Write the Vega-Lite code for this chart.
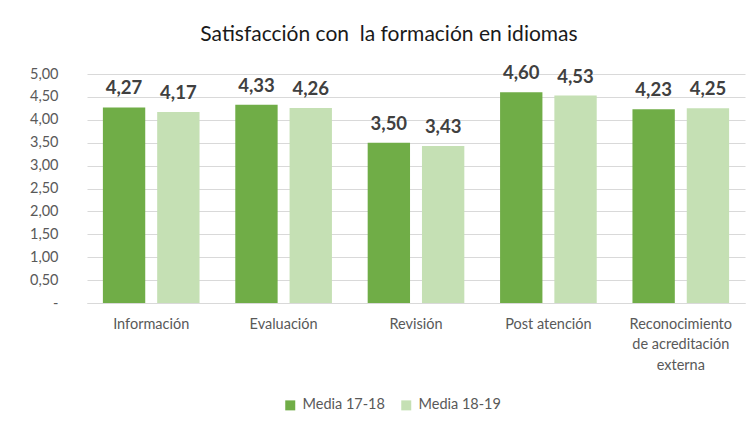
{
  "$schema": "https://vega.github.io/schema/vega-lite/v6.json",
  "width": 658,
  "height": 229,
  "autosize": {"type": "none"},
  "padding": {"left": 87, "top": 74, "right": 7, "bottom": 120},
  "background": "white",
  "title": {
    "text": "Satisfacción con\u00a0 la formación en idiomas",
    "font": "Lato",
    "fontSize": 21,
    "fontWeight": "normal",
    "color": "#1a1a1a",
    "anchor": "middle",
    "offset": 19,
    "dx": -27
  },
  "config": {
    "locale": {"number": {"decimal": ",", "thousands": ".", "grouping": [3], "currency": ["", " €"]}},
    "view": {"stroke": null},
    "font": "Lato"
  },
  "data": {
    "values": [
      {"categoria": "Información", "serie": "Media 17-18", "valor": 4.27},
      {"categoria": "Información", "serie": "Media 18-19", "valor": 4.17},
      {"categoria": "Evaluación", "serie": "Media 17-18", "valor": 4.33},
      {"categoria": "Evaluación", "serie": "Media 18-19", "valor": 4.26},
      {"categoria": "Revisión", "serie": "Media 17-18", "valor": 3.50},
      {"categoria": "Revisión", "serie": "Media 18-19", "valor": 3.43},
      {"categoria": "Post atención", "serie": "Media 17-18", "valor": 4.60},
      {"categoria": "Post atención", "serie": "Media 18-19", "valor": 4.53},
      {"categoria": "Reconocimiento de acreditación externa", "serie": "Media 17-18", "valor": 4.23},
      {"categoria": "Reconocimiento de acreditación externa", "serie": "Media 18-19", "valor": 4.25}
    ]
  },
  "encoding": {
    "x": {
      "field": "categoria",
      "type": "nominal",
      "sort": null,
      "scale": {"paddingInner": 0.27, "paddingOuter": 0.12},
      "axis": {
        "title": null,
        "labelAngle": 0,
        "ticks": false,
        "domain": true,
        "domainColor": "#d9d9d9",
        "labelFont": "Lato",
        "labelFontSize": 14.5,
        "labelColor": "#595959",
        "labelPadding": 14,
        "labelLineHeight": 20.5,
        "labelExpr": "datum.label == 'Reconocimiento de acreditación externa' ? ['Reconocimiento', 'de acreditación', 'externa'] : datum.label"
      }
    },
    "xOffset": {
      "field": "serie",
      "type": "nominal",
      "scale": {"paddingInner": 0.22, "paddingOuter": 0}
    },
    "y": {
      "field": "valor",
      "type": "quantitative",
      "scale": {"domain": [0, 5]},
      "axis": {
        "title": null,
        "values": [0, 0.5, 1, 1.5, 2, 2.5, 3, 3.5, 4, 4.5, 5],
        "format": ".2f",
        "labelExpr": "datum.value == 0 ? '-' : datum.label",
        "domain": false,
        "ticks": false,
        "grid": true,
        "gridColor": "#d9d9d9",
        "gridWidth": 1,
        "labelFont": "Lato",
        "labelFontSize": 14.5,
        "labelColor": "#595959",
        "labelPadding": 29
      }
    }
  },
  "layer": [
    {
      "mark": {"type": "bar"},
      "encoding": {
        "color": {
          "field": "serie",
          "type": "nominal",
          "scale": {"domain": ["Media 17-18", "Media 18-19"], "range": ["#70AD47", "#C5E0B4"]},
          "legend": {
            "title": null,
            "orient": "none",
            "direction": "horizontal",
            "legendX": 196,
            "legendY": 324,
            "symbolType": "square",
            "symbolSize": 100,
            "symbolStrokeWidth": 0,
            "labelFont": "Lato",
            "labelFontSize": 14.5,
            "labelColor": "#595959",
            "columnPadding": 14,
            "labelOffset": 5
          }
        }
      }
    },
    {
      "mark": {"type": "text", "baseline": "bottom", "dy": -9, "font": "Lato", "fontSize": 18.5, "fontWeight": "bold", "color": "#404040"},
      "encoding": {
        "text": {"field": "valor", "type": "quantitative", "format": ".2f"}
      }
    }
  ]
}
